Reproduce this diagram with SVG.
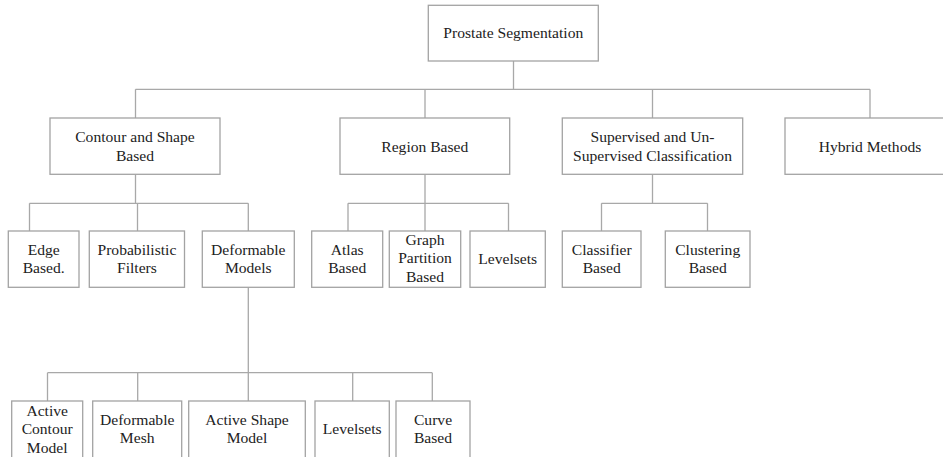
<svg xmlns="http://www.w3.org/2000/svg" width="943" height="457" viewBox="0 0 943 457">
  <style>
    .box { fill: #ffffff; stroke: #a3a3a3; stroke-width: 1.3; }
    .edge { fill: none; stroke: #a8a8a8; stroke-width: 1.3; }
    text { font-family: "Liberation Serif", "Times New Roman", serif; font-size: 15.6px; fill: #222222; text-anchor: middle; }
  </style>
  <rect width="943" height="457" fill="#ffffff"/>

  <!-- connectors -->
  <g id="connectors" class="edge">
    <path d="M513.5 61 V89.3 M135.5 89.3 H870 M135.5 89.3 V118 M425 89.3 V118 M652.5 89.3 V118 M870 89.3 V118"/>
    <path d="M135.5 174.3 V203.3 M29.5 203.3 H248.3 M29.5 203.3 V231 M137.5 203.3 V231 M248.3 203.3 V231"/>
    <path d="M425 174.3 V231 M348 203.3 H508.5 M348 203.3 V231 M508.5 203.3 V231"/>
    <path d="M652.5 174.3 V203.3 M601.5 203.3 H707.5 M601.5 203.3 V231 M707.5 203.3 V231"/>
    <path d="M248.3 287.3 V372.7 M47.5 372.7 H432.3 M47.5 372.7 V401 M137.7 372.7 V401 M248.3 372.7 V401 M352.7 372.7 V401 M432.3 372.7 V401"/>
  </g>

  <!-- root -->
  <g id="root">
    <rect class="box" x="428.3" y="5.3" width="170" height="55.7"/>
    <text x="513.3" y="38">Prostate Segmentation</text>
  </g>

  <!-- first level -->
  <g id="contour-shape">
    <rect class="box" x="50" y="118" width="170" height="56.3"/>
    <text x="135" y="142">Contour and Shape</text>
    <text x="135" y="161">Based</text>
  </g>
  <g id="region">
    <rect class="box" x="340" y="118" width="169.7" height="56.3"/>
    <text x="424.8" y="151.6">Region Based</text>
  </g>
  <g id="classification">
    <rect class="box" x="562.3" y="118" width="180.4" height="56.3"/>
    <text x="652.5" y="142">Supervised and Un-</text>
    <text x="652.5" y="161">Supervised Classification</text>
  </g>
  <g id="hybrid">
    <rect class="box" x="785" y="118" width="170" height="56.3"/>
    <text x="870" y="151.6">Hybrid Methods</text>
  </g>

  <!-- second level -->
  <g id="edge-based">
    <rect class="box" x="8.3" y="231" width="70.7" height="56.3"/>
    <text x="43.7" y="254.5">Edge</text>
    <text x="43.7" y="273.3">Based.</text>
  </g>
  <g id="probabilistic">
    <rect class="box" x="89.3" y="231" width="95.2" height="56.3"/>
    <text x="136.9" y="254.5">Probabilistic</text>
    <text x="136.9" y="273.3">Filters</text>
  </g>
  <g id="deformable-models">
    <rect class="box" x="202.3" y="231" width="92" height="56.3"/>
    <text x="248.3" y="254.5">Deformable</text>
    <text x="248.3" y="273.3">Models</text>
  </g>
  <g id="atlas">
    <rect class="box" x="311.7" y="231" width="71" height="56.3"/>
    <text x="347.2" y="254.5">Atlas</text>
    <text x="347.2" y="273.3">Based</text>
  </g>
  <g id="graph-partition">
    <rect class="box" x="389.3" y="231" width="71.4" height="56.3"/>
    <text x="425" y="245">Graph</text>
    <text x="425" y="263.3">Partition</text>
    <text x="425" y="281.6">Based</text>
  </g>
  <g id="region-levelsets">
    <rect class="box" x="470" y="231" width="75.3" height="56.3"/>
    <text x="507.7" y="264.4">Levelsets</text>
  </g>
  <g id="classifier">
    <rect class="box" x="562.3" y="231" width="78.7" height="56.3"/>
    <text x="601.7" y="254.5">Classifier</text>
    <text x="601.7" y="273.3">Based</text>
  </g>
  <g id="clustering">
    <rect class="box" x="665.3" y="231" width="84.7" height="56.3"/>
    <text x="707.7" y="254.5">Clustering</text>
    <text x="707.7" y="273.3">Based</text>
  </g>

  <!-- third level -->
  <g id="active-contour">
    <rect class="box" x="11.7" y="401" width="71" height="60"/>
    <text x="47.2" y="415.8">Active</text>
    <text x="47.2" y="434.2">Contour</text>
    <text x="47.2" y="452.6">Model</text>
  </g>
  <g id="deformable-mesh">
    <rect class="box" x="92.7" y="401" width="89" height="60"/>
    <text x="137.2" y="424.5">Deformable</text>
    <text x="137.2" y="442.8">Mesh</text>
  </g>
  <g id="active-shape">
    <rect class="box" x="188.7" y="401" width="116.6" height="60"/>
    <text x="247" y="424.5">Active Shape</text>
    <text x="247" y="442.8">Model</text>
  </g>
  <g id="deformable-levelsets">
    <rect class="box" x="315" y="401" width="74.3" height="60"/>
    <text x="352.2" y="434">Levelsets</text>
  </g>
  <g id="curve-based">
    <rect class="box" x="396" y="401" width="74" height="60"/>
    <text x="433" y="424.5">Curve</text>
    <text x="433" y="442.8">Based</text>
  </g>
</svg>
